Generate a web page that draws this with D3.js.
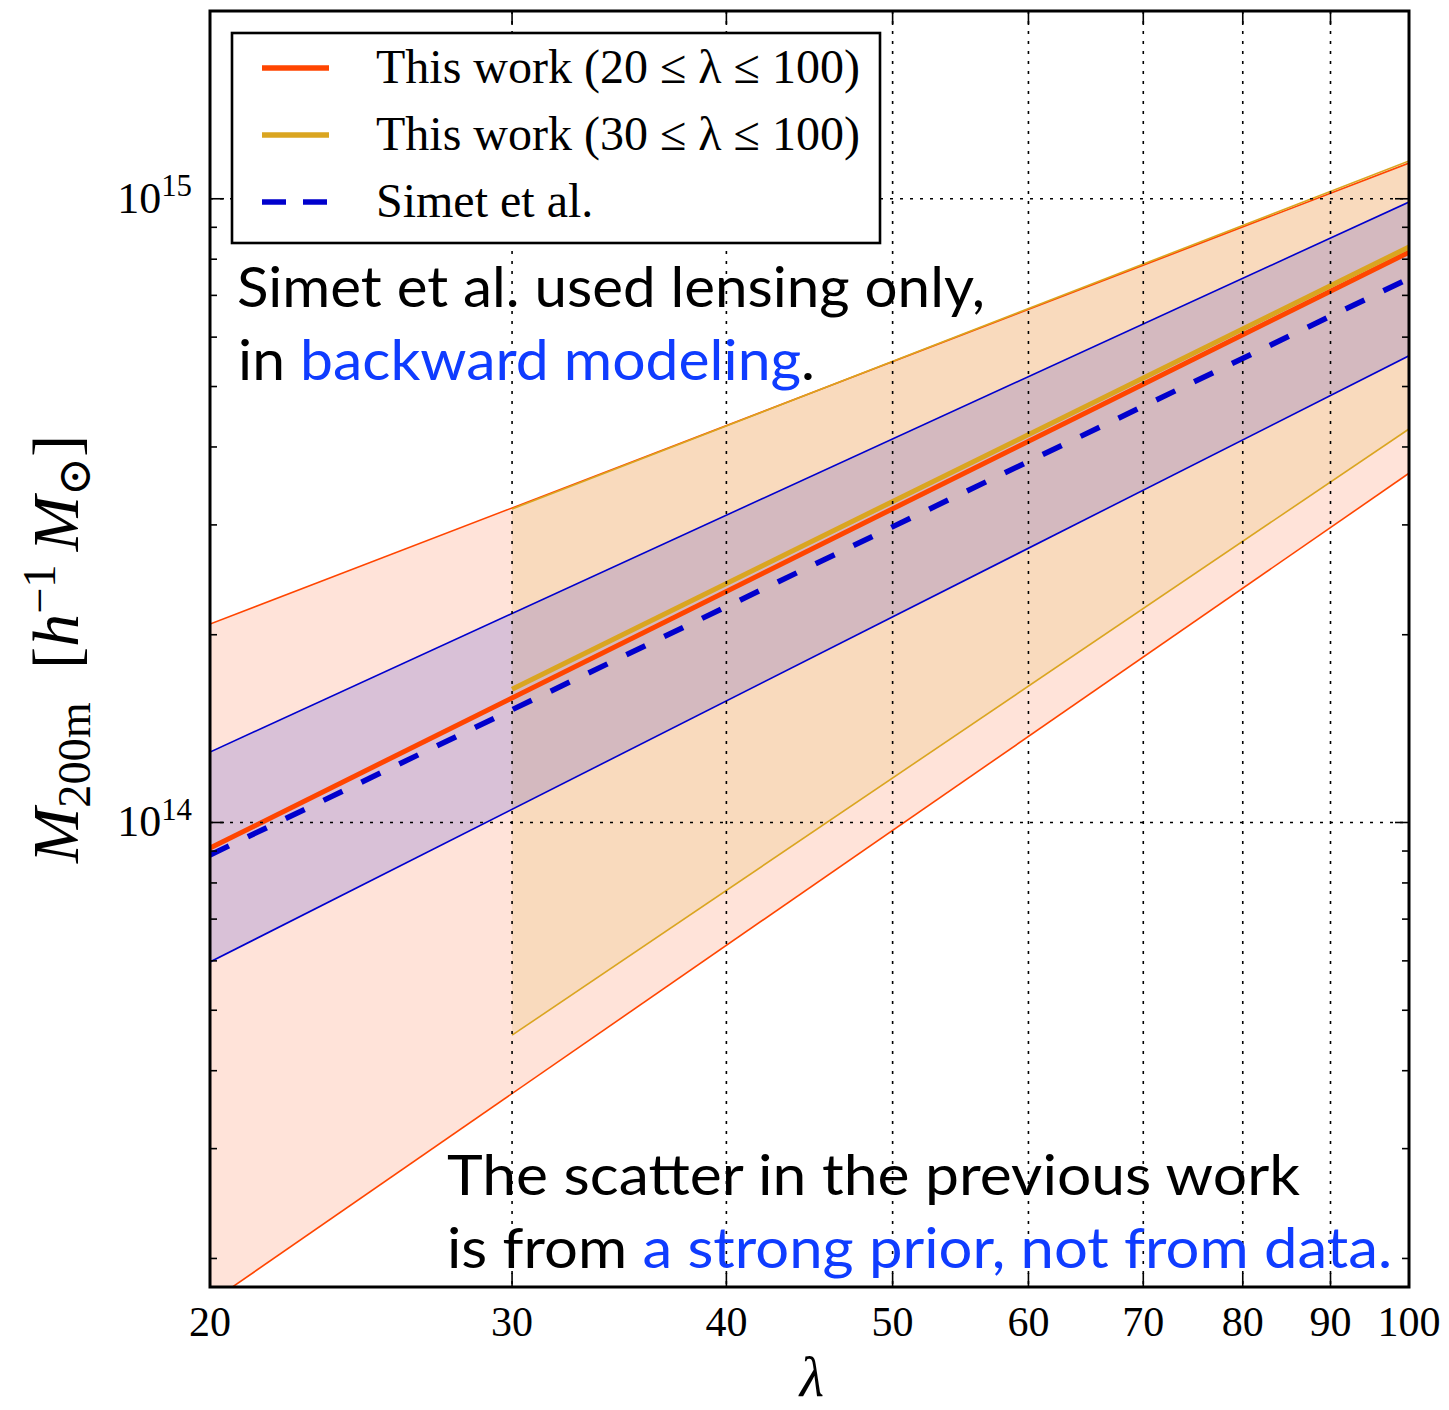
<!DOCTYPE html>
<html>
<head>
<meta charset="utf-8">
<script src="https://cdn.jsdelivr.net/npm/d3@7"></script>
<style>
  body { margin: 0; background: #ffffff; }
  svg { display: block; }
</style>
</head>
<body>
<svg id="chart" width="1449" height="1410"></svg>
<script>
// Richness ranges covered by each fit (end points; relations are power laws)
const lambdaAll = [20, 100];
const lambdaRich = [30, 100];

// This work, 20 <= lambda <= 100: mean relation and scatter band [h^-1 Msun]
const massAllMean = [9.1e13, 8.21e14];
const massAllUpper = [2.08e14, 1.141e15];
const massAllLower = [1.7e13, 3.63e14];

// This work, 30 <= lambda <= 100
const massRichMean = [1.636e14, 8.37e14];
const massRichUpper = [3.18e14, 1.15e15];
const massRichLower = [4.56e13, 4.275e14];

// Simet et al.
const simetMean = [8.87e13, 7.45e14];
const simetUpper = [1.297e14, 9.88e14];
const simetLower = [5.975e13, 5.6e14];

// Axes
const xTickValues = [20, 30, 40, 50, 60, 70, 80, 90, 100];
const xTickLabels = ["20", "30", "40", "50", "60", "70", "80", "90", "100"];
const xGridValues = [30, 40, 50, 60, 70, 80, 90];
const yMajorTicks = [1e14, 1e15];
const yMajorExponents = ["14", "15"];
const yMinorTicks = [2e13, 3e13, 4e13, 5e13, 6e13, 7e13, 8e13, 9e13,
                     2e14, 3e14, 4e14, 5e14, 6e14, 7e14, 8e14, 9e14, 2e15];

const legendLabels = ["This work (20 \u2264 \u03bb \u2264 100)",
                      "This work (30 \u2264 \u03bb \u2264 100)",
                      "Simet et al."];

// ---------------------------------------------------------------------------
const RED = "#ff4500", GOLD = "#daa520", BLUE = "#0000cd", NOTE_BLUE = "#0f3cff";
const SERIF = "'Liberation Serif', 'DejaVu Serif', serif";
const SANS = "Lato, 'Open Sans', sans-serif";

const plot = { left: 210, right: 1409, top: 11, bottom: 1287 };

const svg = d3.select("#chart");
const x = d3.scaleLog().domain([20, 100]).range([plot.left, plot.right]);
const y = d3.scaleLog().domain([1.8e13, 2e15]).range([plot.bottom, plot.top]);

svg.append("defs").append("clipPath").attr("id", "plot-clip")
  .append("rect")
  .attr("x", plot.left).attr("y", plot.top)
  .attr("width", plot.right - plot.left).attr("height", plot.bottom - plot.top);

const layer = svg.append("g").attr("clip-path", "url(#plot-clip)");

function zipBand(lams, lower, upper, mean) {
  return lams.map((l, i) => ({ l, lo: lower[i], hi: upper[i], m: mean[i] }));
}
const bands = [
  { color: RED, data: zipBand(lambdaAll, massAllLower, massAllUpper, massAllMean) },
  { color: GOLD, data: zipBand(lambdaRich, massRichLower, massRichUpper, massRichMean) },
  { color: BLUE, data: zipBand(lambdaAll, simetLower, simetUpper, simetMean), dashed: true }
];

const area = d3.area().x(d => x(d.l)).y0(d => y(d.lo)).y1(d => y(d.hi));
const lineOf = key => d3.line().x(d => x(d.l)).y(d => y(d[key]));

// scatter bands
bands.forEach(b => {
  layer.append("path").attr("d", area(b.data))
    .attr("fill", b.color).attr("fill-opacity", 0.15).attr("stroke", "none");
});
// band edges
bands.forEach(b => {
  ["lo", "hi"].forEach(k => {
    layer.append("path").attr("d", lineOf(k)(b.data))
      .attr("fill", "none").attr("stroke", b.color).attr("stroke-width", 1.6);
  });
});
// mean relations
bands.forEach(b => {
  layer.append("path").attr("d", lineOf("m")(b.data))
    .attr("fill", "none").attr("stroke", b.color)
    .attr("stroke-width", b.dashed ? 5.5 : 5)
    .attr("stroke-dasharray", b.dashed ? "21,21" : null);
});

// dotted grid
const grid = svg.append("g").attr("stroke", "#000").attr("stroke-width", 1.6)
  .attr("stroke-dasharray", "3,7").attr("fill", "none");
xGridValues.forEach(v => {
  grid.append("line").attr("x1", x(v)).attr("x2", x(v))
    .attr("y1", plot.top).attr("y2", plot.bottom);
});
yMajorTicks.forEach(v => {
  grid.append("line").attr("x1", plot.left).attr("x2", plot.right)
    .attr("y1", y(v)).attr("y2", y(v));
});

// ticks on all four sides, pointing inwards
const ticks = svg.append("g").attr("stroke", "#000").attr("stroke-width", 1.6);
const MAJ = 14, MIN = 7;
xTickValues.forEach(v => {
  ticks.append("line").attr("x1", x(v)).attr("x2", x(v)).attr("y1", plot.bottom).attr("y2", plot.bottom - MAJ);
  ticks.append("line").attr("x1", x(v)).attr("x2", x(v)).attr("y1", plot.top).attr("y2", plot.top + MAJ);
});
yMajorTicks.forEach(v => {
  ticks.append("line").attr("x1", plot.left).attr("x2", plot.left + MAJ).attr("y1", y(v)).attr("y2", y(v));
  ticks.append("line").attr("x1", plot.right).attr("x2", plot.right - MAJ).attr("y1", y(v)).attr("y2", y(v));
});
yMinorTicks.forEach(v => {
  ticks.append("line").attr("x1", plot.left).attr("x2", plot.left + MIN).attr("y1", y(v)).attr("y2", y(v));
  ticks.append("line").attr("x1", plot.right).attr("x2", plot.right - MIN).attr("y1", y(v)).attr("y2", y(v));
});

// frame
svg.append("rect")
  .attr("x", plot.left).attr("y", plot.top)
  .attr("width", plot.right - plot.left).attr("height", plot.bottom - plot.top)
  .attr("fill", "none").attr("stroke", "#000").attr("stroke-width", 3);

// tick labels
const xl = svg.append("g").attr("font-family", SERIF).attr("font-size", 42)
  .attr("fill", "#000").attr("text-anchor", "middle");
xTickValues.forEach((v, i) => {
  xl.append("text").attr("x", x(v)).attr("y", plot.bottom + 49).text(xTickLabels[i]);
});
const yl = svg.append("g").attr("font-family", SERIF).attr("font-size", 44)
  .attr("fill", "#000").attr("text-anchor", "end");
yMajorTicks.forEach((v, i) => {
  const t = yl.append("text").attr("x", plot.left - 18).attr("y", y(v) + 14);
  t.append("tspan").text("10");
  t.append("tspan").attr("font-size", "0.7em").attr("dy", "-0.55em").text(yMajorExponents[i]);
});

// axis titles
const ylab = svg.append("text")
  .attr("transform", `translate(78, ${(plot.top + plot.bottom) / 2}) rotate(-90)`)
  .attr("text-anchor", "middle").attr("font-family", SERIF).attr("font-size", 64).attr("fill", "#000");
ylab.append("tspan").attr("font-style", "italic").text("M");
ylab.append("tspan").attr("font-size", "0.7em").attr("dy", "0.25em").text("200m");
ylab.append("tspan").attr("dy", "-0.175em").text("\u2002[");
ylab.append("tspan").attr("font-style", "italic").text("h");
ylab.append("tspan").attr("font-size", "0.7em").attr("dy", "-0.5em").text("\u22121");
ylab.append("tspan").attr("dy", "0.35em").text("\u2009");
ylab.append("tspan").attr("font-style", "italic").text("M");
ylab.append("tspan").attr("font-size", "0.7em").attr("dy", "0.25em").text("\u2299");
ylab.append("tspan").attr("dy", "-0.175em").text("]");
(function () {
  const w = ylab.node().getComputedTextLength();
  ylab.attr("font-size", 64 * 428 / w);
})();

svg.append("text").attr("x", 812).attr("y", 1396)
  .attr("text-anchor", "middle").attr("font-family", SERIF).attr("font-style", "italic")
  .attr("font-size", 56).attr("fill", "#000").text("\u03bb");

// legend
const leg = svg.append("g");
leg.append("rect").attr("x", 232).attr("y", 33).attr("width", 648).attr("height", 210)
  .attr("fill", "#fff").attr("stroke", "#000").attr("stroke-width", 2.6);
const legRows = [68, 135, 202];
let legendFont = 42;
bands.forEach((b, i) => {
  leg.append("line").attr("x1", 262).attr("x2", 329).attr("y1", legRows[i]).attr("y2", legRows[i])
    .attr("stroke", b.color).attr("stroke-width", 5.5)
    .attr("stroke-dasharray", b.dashed ? "24,17" : null);
  const t = leg.append("text").attr("x", 376).attr("y", legRows[i] + 15)
    .attr("font-family", SERIF).attr("font-size", legendFont).attr("fill", "#000").text(legendLabels[i]);
  if (i === 0) {
    legendFont = 42 * 484 / t.node().getComputedTextLength();
    t.attr("font-size", legendFont);
  }
});

// annotations
function note(xp, yp, parts, width) {
  const t = svg.append("text").attr("x", xp).attr("y", yp)
    .attr("font-family", SANS).attr("font-size", 56);
  parts.forEach(p => t.append("tspan").attr("fill", p[1]).text(p[0]));
  t.attr("textLength", width).attr("lengthAdjust", "spacingAndGlyphs");
  return t;
}
note(237, 307, [["Simet et al. used lensing only,", "#000"]], 748);
note(238, 380, [["in ", "#000"], ["backward modeling", NOTE_BLUE], [".", "#000"]], 577);
note(447, 1195, [["The scatter in the previous work", "#000"]], 853);
note(447, 1268, [["is from ", "#000"], ["a strong prior, not from data.", NOTE_BLUE]], 945);
</script>
</body>
</html>
